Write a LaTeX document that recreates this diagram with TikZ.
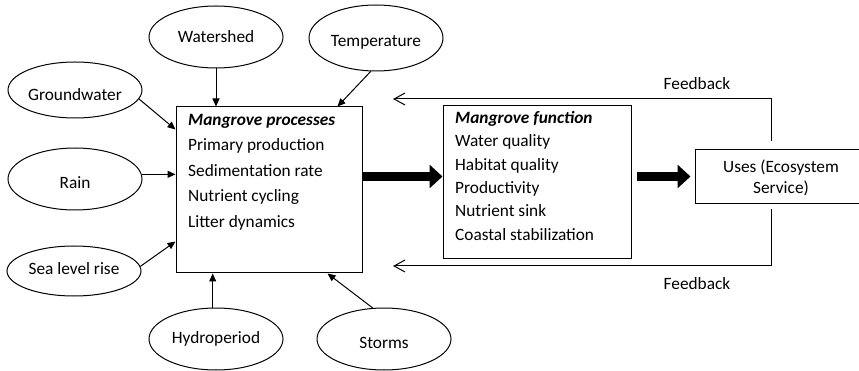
\documentclass[tikz,border=0pt]{standalone}
\usepackage{fontspec}
\setmainfont{Carlito}
\usetikzlibrary{shapes.geometric,arrows.meta,calc}
\begin{document}
\begin{tikzpicture}[x=1pt,y=-1pt,
  every node/.style={font=\fontsize{17.3}{21}\selectfont},
  oval/.style={draw,ellipse,line width=1pt,minimum width=134pt,inner sep=0pt},
  boxnode/.style={draw,rectangle,line width=1pt,inner sep=0pt},
  thin/.style={line width=1pt,-{Triangle[length=8pt,width=7pt]}},
  thick/.style={line width=9pt,-{Triangle[length=13pt,width=23pt]}},
  feed/.style={line width=1pt,-{Straight Barb[length=11pt,width=12pt]}},
  plain/.style={inner sep=0pt}]
\useasboundingbox (0,0) rectangle (859,371);

% ellipses
\node[oval,minimum height=62pt] (ws) at (216,37) {};
\node[plain] (wst) at (216,37) {Watershed};
\node[oval,minimum height=66pt] (temp) at (376,38) {};
\node[plain] (tempt) at (376,42) {Temperature};
\node[oval,minimum height=56pt] (gw) at (75,90) {};
\node[plain] (gwt) at (75,95) {Groundwater};
\node[oval,minimum height=62pt] (rain) at (75,179) {};
\node[plain] (raint) at (75,183) {Rain};
\node[oval,minimum height=50pt] (slr) at (74,271) {};
\node[plain] (slrt) at (74,269) {Sea level rise};
\node[oval,minimum height=62pt] (hp) at (216,339) {};
\node[plain] (hpt) at (216,339) {Hydroperiod};
\node[oval,minimum height=62pt] (st) at (384,339) {};
\node[plain] (stt) at (384,343) {Storms};

% boxes
\node[boxnode,minimum width=186pt,minimum height=166pt] (pb) at (269,190) {};
\node[plain,anchor=north west,align=left,font=\fontsize{17.3}{25.5}\selectfont] (pbt) at (188,114)
  {\textbf{\textit{Mangrove processes}}\\Primary production\\Sedimentation rate\\Nutrient cycling\\Litter dynamics};

\node[boxnode,minimum width=188pt,minimum height=153pt] (fb) at (537,182.5) {};
\node[plain,anchor=north west,align=left,font=\fontsize{17.3}{23.4}\selectfont] (fbt) at (455,111)
  {\textbf{\textit{Mangrove function}}\\Water quality\\Habitat quality\\Productivity\\Nutrient sink\\Coastal stabilization};

\node[boxnode,minimum width=172pt,minimum height=54pt] (uses) at (781,177) {};
\node[plain,align=center,font=\fontsize{17.3}{21}\selectfont] (usest) at (781,177.5) {Uses (Ecosystem\\Service)};

% thin arrows
\draw[thin] (ws.south) -- (ws.south |- pb.north);
\draw[thin] (temp.261) -- ($(pb.north west)+(162,0)$);
\draw[thin] (gw.-8) -- ($(pb.north west)+(0,23)$);
\draw[thin] (rain.4) -- (rain.4 -| pb.west);
\draw[thin] (slr.4) -- ($(pb.south west)+(0,-32)$);
\draw[thin] (hp.96) -- (hp.96 |- pb.south);
\draw[thin] (st.110) -- ($(pb.south west)+(152,0)$);

% thick arrows
\draw[thick] ($(pb.north east)+(0,70)$) -- ($(fb.north west)+(0,71)$);
\draw[thick] ($(fb.north east)+(5,71)$) -- ($(uses.north west)+(-4,27)$);

% feedback
\coordinate (ftip) at (393,99);
\coordinate (btip) at (393,266);
\draw[feed] ($(uses.north west)+(77,-8)$) |- (ftip);
\draw[feed] ($(uses.south west)+(77,5)$) |- (btip);
\node[plain] (fl1) at (697,84) {Feedback};
\node[plain] (fl2) at (697,284) {Feedback};
\end{tikzpicture}
\end{document}
